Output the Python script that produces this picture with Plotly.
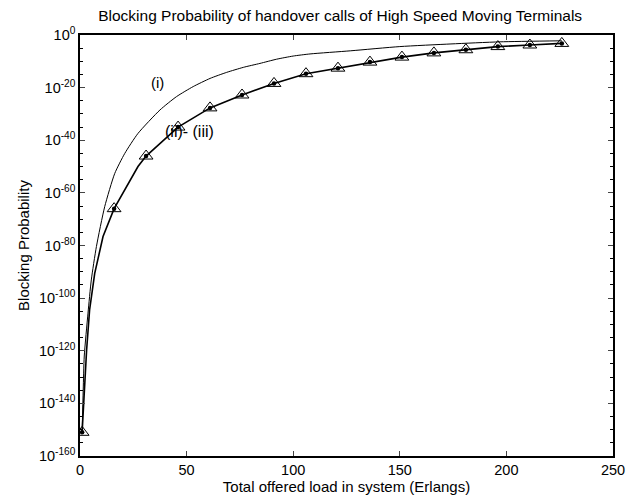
import plotly.graph_objects as go

# Curve (i): offered load vs log10(blocking probability)
load_i = [1, 1.5, 2, 3.75, 5.3, 7.7, 11.6, 16.3, 21, 27.2, 37.5, 45.3, 53.1, 61, 68.8, 76.6, 84.4,
          92.2, 100, 107.9, 127, 150, 174, 197, 226]
exp_i = [-151, -135, -122, -105.7, -93.1, -80.4, -65.2, -52.6, -45, -37.4, -28.5, -23.4, -19.6, -16.5,
         -14.2, -12.3, -10.8, -9.2, -8.0, -7.2, -6.0, -4.4, -3.4, -2.6, -2.2]

# Curve (ii): line points
load_ii = [1, 2, 3.1, 4.5, 6.9, 10.8, 16, 27.2, 31, 46, 61, 76, 91, 106, 121, 136, 151, 166, 181, 196,
           211, 226]
exp_ii = [-151, -135, -119.7, -104.5, -90.6, -76.6, -66, -50, -46, -35, -27.7, -22.8, -18.4, -14.7,
          -12.6, -10.3, -8.4, -6.8, -5.6, -4.4, -3.8, -3.2]

# Curve (iii) markers
load_iii = [1, 16, 31, 46, 61, 76, 91, 106, 121, 136, 151, 166, 181, 196, 211, 226]
exp_iii = [-151, -66, -46, -35, -27.7, -22.8, -18.4, -14.7, -12.6, -10.3, -8.4, -6.8, -5.6, -4.4, -3.8,
           -3.2]

y_tick_exps = [0, -20, -40, -60, -80, -100, -120, -140, -160]
x_ticks = [0, 50, 100, 150, 200, 250]

fig = go.Figure()
fig.add_trace(go.Scatter(x=load_i, y=[10 ** e for e in exp_i], mode="lines",
                         line=dict(color="black", width=1, shape="spline", smoothing=0.6),
                         showlegend=False))
fig.add_trace(go.Scatter(x=load_ii, y=[10 ** e for e in exp_ii], mode="lines",
                         line=dict(color="black", width=1.6), showlegend=False))
fig.add_trace(go.Scatter(x=load_iii, y=[10 ** e for e in exp_iii], mode="markers",
                         marker=dict(symbol="triangle-up-open", size=12, color="black",
                                     line=dict(width=1, color="black")),
                         showlegend=False))
fig.add_trace(go.Scatter(x=load_iii, y=[10 ** e for e in exp_iii], mode="markers",
                         marker=dict(symbol="circle", size=4.5, color="black"),
                         showlegend=False))

font = dict(family="Liberation Sans, Arial, sans-serif", color="black")

fig.add_annotation(x=36.5, y=-18.2, xref="x", yref="y", text="(i)", showarrow=False,
                   font=dict(size=15, **font))
fig.add_annotation(x=51.4, y=-36.7, xref="x", yref="y", text="(ii)- (iii)", showarrow=False,
                   font=dict(size=16, **font))

minor_vals = [10 ** (-e) for e in range(0, 161, 5) if e % 20 != 0]

fig.update_layout(
    width=640, height=499,
    margin=dict(l=72, r=35, t=27, b=51),
    paper_bgcolor="white", plot_bgcolor="white",
    font=dict(size=14, **font),
    title=dict(text="Blocking Probability of handover calls of High Speed Moving Terminals",
               x=0.519, xanchor="center", y=1 - 8 / 499, yanchor="middle",
               font=dict(size=15.5, **font)),
    xaxis=dict(range=[0, 250], tickvals=x_ticks, ticks="inside", ticklen=5,
               showline=True, linecolor="black", linewidth=1.5, mirror="ticks",
               showgrid=False, zeroline=False, tickfont=dict(size=14.5, **font),
               title=dict(text="Total offered load in system (Erlangs)", font=dict(size=15, **font),
                          standoff=2)),
    yaxis=dict(type="log", range=[-160, 0],
               tickvals=[10 ** e for e in y_tick_exps],
               ticktext=["10<sup>%d</sup>" % e for e in y_tick_exps],
               ticks="inside", ticklen=5,
               minor=dict(tickvals=minor_vals, ticks="inside", ticklen=3, tickcolor="black"),
               showline=True, linecolor="black", linewidth=1.5, mirror="ticks",
               showgrid=False, zeroline=False, tickfont=dict(size=14.5, **font),
               title=dict(text="Blocking Probability", font=dict(size=15, **font), standoff=6)),
)

fig.write_html("out.html")
